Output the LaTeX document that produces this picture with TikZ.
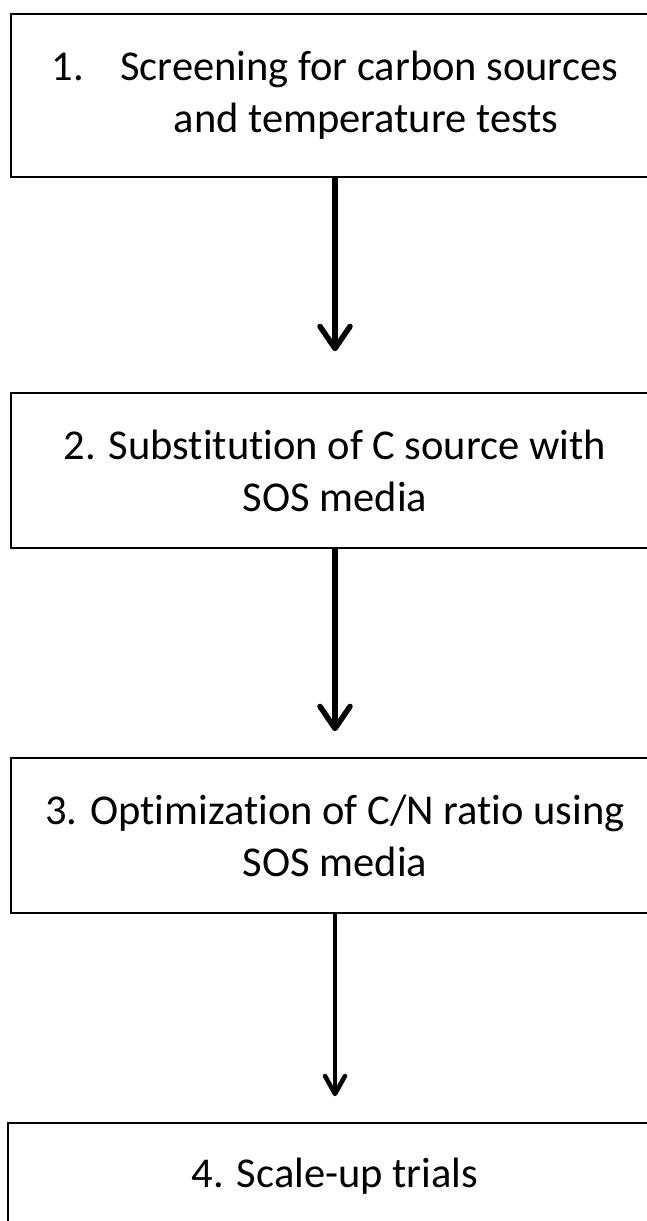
\documentclass[tikz,border=0pt]{standalone}
\usepackage{fontspec}
\setmainfont{Carlito}[Ligatures=NoCommon]
\usepackage{tikz}
\usetikzlibrary{arrows.meta}

\begin{document}
\begin{tikzpicture}[x=1pt,y=-1pt,
    stepbox/.style={shape=rectangle, draw, line width=1.6pt, minimum width=648pt, inner sep=0pt, align=center,
      font=\fontsize{42.5pt}{52pt}\selectfont},
    flow/.style={line width=5.5pt, -{Straight Barb[length=22pt,width=30pt,line cap=round,line join=round]}},
    smallflow/.style={line width=4.5pt, -{Straight Barb[length=18pt,width=20pt,line cap=round,line join=round]}}]
    \useasboundingbox (0,0) rectangle (647,1221);

    \node[stepbox, minimum height=163pt] (screen) at (335,95.5) {1.\hspace{36pt}Screening for carbon sources\\ \hspace{62pt}and temperature tests};
    \node[stepbox, minimum height=155pt] (subst) at (335,470.5) {2. Substitution of C source with\\ SOS media};
    \node[stepbox, minimum height=155pt] (optim) at (335,835.5) {3. Optimization of C/N ratio using\\ SOS media};
    \node[stepbox, minimum height=106pt, minimum width=654pt] (scale) at (335,1176) {4. Scale-up trials};

    \draw[flow, shorten >=41pt] (screen.south) -- (subst.north);
    \draw[flow, shorten >=26pt] (subst.south) -- (optim.north);
    \draw[smallflow, shorten >=26pt] (optim.south) -- (scale.north);
\end{tikzpicture}
\end{document}
